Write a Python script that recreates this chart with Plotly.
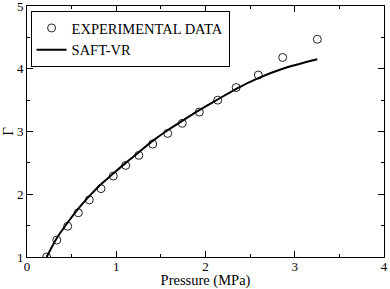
import plotly.graph_objects as go

exp_pressure = [0.22, 0.333, 0.456, 0.575, 0.698, 0.829, 0.967, 1.106, 1.253, 1.408,
                1.576, 1.740, 1.931, 2.137, 2.344, 2.592, 2.865, 3.253]
exp_gamma = [1.00, 1.27, 1.49, 1.705, 1.91, 2.09, 2.29, 2.46, 2.62, 2.80,
             2.97, 3.13, 3.31, 3.50, 3.70, 3.90, 4.18, 4.47]

saft_pressure = [0.22, 0.333, 0.456, 0.575, 0.698, 0.829, 0.967, 1.106, 1.253, 1.408,
                 1.576, 1.740, 1.931, 2.137, 2.344, 2.592, 2.865, 3.253]
saft_gamma = [1.00, 1.30, 1.55, 1.77, 1.97, 2.16, 2.33, 2.50, 2.67, 2.85,
              3.02, 3.17, 3.34, 3.51, 3.68, 3.85, 4.00, 4.15]

FONT = "'Liberation Serif', 'Times New Roman', 'DejaVu Serif', serif"

fig = go.Figure()
fig.add_trace(go.Scatter(
    x=exp_pressure, y=exp_gamma, mode="markers", name="EXPERIMENTAL DATA",
    marker=dict(symbol="circle-open", size=8, color="#222", line=dict(width=1, color="#222")),
))
fig.add_trace(go.Scatter(
    x=saft_pressure, y=saft_gamma, mode="lines", name="SAFT-VR",
    line=dict(color="black", width=2, shape="spline", smoothing=0.8),
))

axis_common = dict(
    showgrid=False, zeroline=False, showline=True, linecolor="black", linewidth=1,
    mirror="ticks", ticks="inside", ticklen=6, tickwidth=1, tickcolor="black",
    tickfont=dict(family=FONT, size=13, color="black"),
    minor=dict(ticks="inside", ticklen=3, tickwidth=1, tickcolor="black", dtick=0.5),
    automargin=False, ticklabeloverflow="allow",
)

fig.update_xaxes(range=[0, 4], dtick=1, tick0=0, ticklabelstandoff=-3,
                 title=dict(text="Pressure (MPa)", font=dict(family=FONT, size=14.5, color="black"), standoff=3),
                 **axis_common)
fig.update_yaxes(range=[1, 5], dtick=1, tick0=1,
                 title=dict(text="Γ", font=dict(family=FONT, size=15, color="black"), standoff=0),
                 **axis_common)

fig.update_layout(
    width=390, height=289,
    margin=dict(l=27, r=6, t=6, b=32),
    paper_bgcolor="white", plot_bgcolor="white",
    font=dict(family=FONT, size=14, color="black"),
    legend=dict(x=0.01, y=0.98, xanchor="left", yanchor="top",
                bordercolor="black", borderwidth=1, bgcolor="white",
                font=dict(family=FONT, size=14.5, color="black"),
                tracegroupgap=0, itemwidth=30),
    showlegend=True,
)

fig.write_html("out.html", config={"displayModeBar": False},
               post_script="document.body.style.margin='0';document.body.style.padding='0';")
